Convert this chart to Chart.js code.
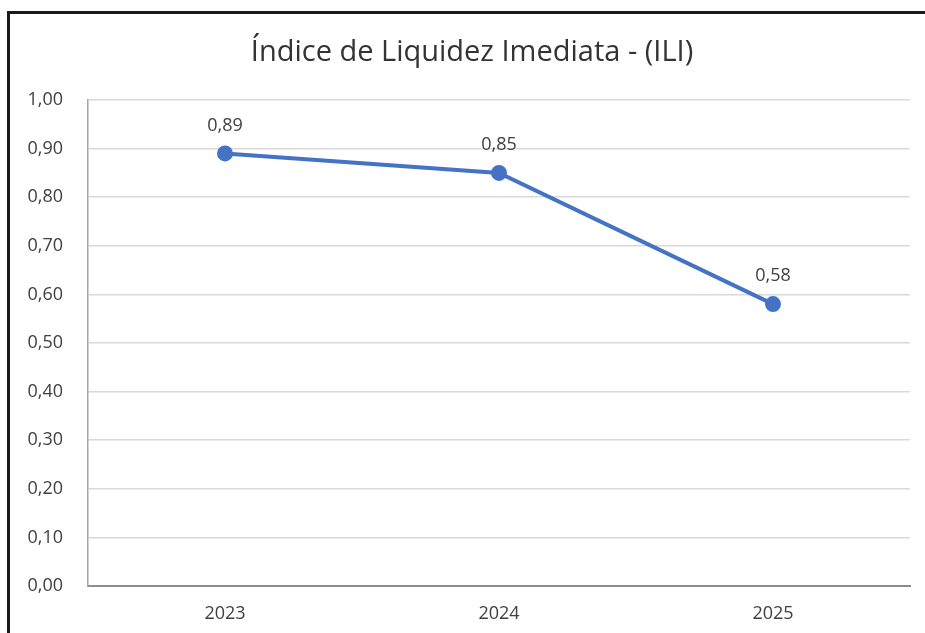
<!DOCTYPE html>
<html>
<head>
<meta charset="utf-8">
<script src="https://cdn.jsdelivr.net/npm/chart.js@4/dist/chart.umd.min.js"></script>
<style>
  html, body { margin: 0; padding: 0; background: #fff; overflow: hidden; }
  #frame { position: absolute; left: 7px; top: 11px; width: 918px; height: 622px;
           border-left: 3px solid #1a1a1a; border-top: 3px solid #1a1a1a; }
  #wrap { position: absolute; left: 0; top: 0; width: 915px; height: 619px; }
</style>
</head>
<body>
<div id="frame"><div id="wrap"><canvas id="c" width="915" height="619"></canvas></div></div>
<script>
const titleText = "Índice de Liquidez Imediata - (ILI)";
const categories = ["2023", "2024", "2025"];
const iliValues = [0.89, 0.85, 0.58];
const yTicks = [0, 0.1, 0.2, 0.3, 0.4, 0.5, 0.6, 0.7, 0.8, 0.9, 1.0];

const fmt = v => v.toFixed(2).replace('.', ',');
const FONT = "'Open Sans', 'Noto Sans', sans-serif";

const labelPlugin = {
  id: 'valueLabels',
  afterDatasetsDraw(chart) {
    const ctx = chart.ctx;
    const meta = chart.getDatasetMeta(0);
    ctx.save();
    ctx.font = "18px " + FONT;
    ctx.fillStyle = "#404040";
    ctx.textAlign = "center";
    ctx.textBaseline = "middle";
    meta.data.forEach((pt, i) => {
      ctx.fillText(fmt(chart.data.datasets[0].data[i]), pt.x, pt.y - 28);
    });
    ctx.restore();
  }
};

const titlePlugin = {
  id: 'fixedTitle',
  afterDraw(chart) {
    const ctx = chart.ctx;
    ctx.save();
    ctx.font = "29px " + FONT;
    ctx.fillStyle = "#333333";
    ctx.textAlign = "center";
    ctx.textBaseline = "middle";
    ctx.fillText(titleText, 462, 39);
    ctx.restore();
  }
};

new Chart(document.getElementById('c'), {
  type: 'line',
  data: {
    labels: categories,
    datasets: [{
      data: iliValues,
      borderColor: '#4472C4',
      backgroundColor: '#4472C4',
      borderWidth: 4,
      pointRadius: 6,
      pointBackgroundColor: '#4472C4',
      pointBorderColor: '#4472C4',
      tension: 0
    }]
  },
  options: {
    responsive: false,
    animation: false,
    layout: { padding: { left: 0, right: 15, top: 86, bottom: 0 } },
    plugins: {
      legend: { display: false },
      tooltip: { enabled: false },
      title: { display: false }
    },
    scales: {
      x: {
        offset: true,
        grid: { display: false, drawTicks: false },
        border: { display: true, color: '#8c8c8c', width: 2 },
        ticks: { color: '#404040', font: { family: FONT, size: 18 }, padding: 17 },
        afterFit(s) { s.height = 47; }
      },
      y: {
        min: 0, max: 1,
        afterBuildTicks(s) { s.ticks = yTicks.map(v => ({ value: v })); },
        grid: { color: '#d9d9d9', lineWidth: 1.5, drawTicks: false },
        border: { display: true, color: '#a6a6a6', width: 1.5 },
        ticks: {
          color: '#404040',
          font: { family: FONT, size: 18 },
          padding: 25,
          callback: v => fmt(v)
        },
        afterFit(s) { s.width = 78; }
      }
    }
  },
  plugins: [labelPlugin, titlePlugin]
});
</script>
</body>
</html>
